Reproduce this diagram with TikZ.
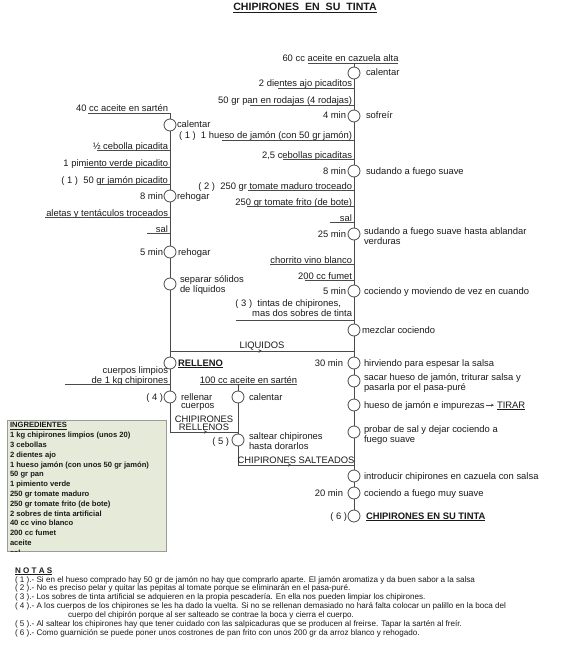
\documentclass[tikz,border=0pt]{standalone}
\usepackage{fontspec}
\setmainfont{Liberation Sans}
\usetikzlibrary{arrows.meta,decorations.markings}
\definecolor{ln}{HTML}{4A4A4A}
\definecolor{tx}{HTML}{1A1A1A}
\definecolor{boxfill}{HTML}{E6EBD9}
\definecolor{boxline}{HTML}{9A9A9A}
\newcommand{\ingr}[5]{%
  \node[lab, anchor=base east] (#1) at (#2-2, #3+3) {#5};
  \draw[ul] (#4, #3+4.5) -- (#2, #3+4.5);}
\begin{document}
\begin{tikzpicture}[x=1pt,y=-1pt,
  every node/.style={text=tx, inner sep=0pt, outer sep=0pt},
  lab/.style={font=\fontsize{9.4}{8}\selectfont, align=left},
  labr/.style={lab, align=right},
  stepc/.style={circle, draw=ln, fill=white, line width=0.8pt, minimum size=12pt, inner sep=0pt},
  flow/.style={draw=ln, line width=0.8pt},
  ul/.style={draw=ln, line width=0.7pt},
  midarrow/.style={postaction={decorate}, decoration={markings, mark=at position #1 with {\arrow{Stealth[length=3.5pt,width=3.5pt]}}}},
]
\useasboundingbox (0,0) rectangle (560,650);

% title
\node[anchor=base, font=\fontsize{10.6}{12}\selectfont\bfseries] (title) at (305,11) {\underline{CHIPIRONES\ \ EN\ \ SU\ \ TINTA}};

% ---------- right column circles ----------
\node[stepc] (r1) at (354,73) {};
\node[stepc] (r2) at (354,116) {};
\node[stepc] (r3) at (354,171) {};
\node[stepc] (r4) at (354,234) {};
\node[stepc] (r5) at (354,291) {};
\node[stepc] (r6) at (354,330) {};
\node[stepc] (r7) at (354,363) {};
\node[stepc] (r8) at (354,381) {};
\node[stepc] (r9) at (354,405) {};
\node[stepc] (r10) at (354,432) {};
\node[stepc] (r11) at (354,476) {};
\node[stepc] (r12) at (354,493) {};
\node[stepc] (r13) at (354,516) {};
\coordinate (topR) at (354,63.5);
\coordinate (jLr) at (354,351);
\coordinate (jSr) at (354,465);

% ---------- left column ----------
\node[stepc] (l1) at (170,125) {};
\node[stepc] (l2) at (170,196) {};
\node[stepc] (l3) at (170,252) {};
\node[stepc] (l4) at (170,284) {};
\node[stepc] (l5) at (170,363) {};
\node[stepc] (l6) at (170,397) {};
\coordinate (topL) at (170,113.5);
\coordinate (jLl) at (170,351);
\coordinate (cornL) at (170,432);

% ---------- middle column ----------
\node[stepc] (m1) at (238,397) {};
\node[stepc] (m2) at (238,440) {};
\coordinate (topM) at (238,384.5);
\coordinate (jRm) at (238,432);
\coordinate (cornM) at (238,465);

% ---------- flow lines ----------
\draw[flow] (topR) -- (r1) -- (r2) -- (r3) -- (r4) -- (r5) -- (r6) -- (r7) -- (r8) -- (r9) -- (r10) -- (r11) -- (r12) -- (r13);
\draw[flow] (topL) -- (l1) -- (l2) -- (l3) -- (l4) -- (l5) -- (l6) -- (cornL);
\draw[flow] (topM) -- (m1) -- (m2) -- (cornM);
\draw[flow, midarrow=0.5] (jLl) -- (jLr);
\draw[flow, midarrow=0.55] (cornL) -- (jRm);
\draw[flow, midarrow=0.46] (cornM) -- (jSr);

% ---------- right column ingredients ----------
\node[lab, anchor=base] (a0) at (340.5,62) {60 cc aceite en cazuela alta};
\draw[ul] (308,63.5) -- (398,63.5);
\ingr{i1}{354}{84}{278}{2 dientes ajo picaditos}
\ingr{i2}{354}{101}{250}{50 gr pan en rodajas (4 rodajas)}
\ingr{i3}{354}{136}{222}{( 1 )\ \ 1 hueso de jamón (con 50 gr jamón)}
\ingr{i4}{354}{155}{283}{2,5 cebollas picaditas}
\ingr{i5}{354}{186}{248}{( 2 )\ \ 250 gr tomate maduro troceado}
\ingr{i6}{354}{202}{247}{250 gr tomate frito (de bote)}
\ingr{i7}{354}{218}{330}{sal}
\ingr{i8}{354}{260}{270}{chorrito vino blanco}
\ingr{i9}{354}{276}{305}{200 cc fumet}
\node[labr, anchor=base east] (i10) at (352,316) {( 3 )\ \ tintas de chipirones,\hspace*{11pt}\\mas dos sobres de tinta};
\draw[ul] (236,320) -- (354,320);

% ---------- left column ingredients ----------
\node[lab, anchor=base east] (b0) at (168,112) {40 cc aceite en sartén};
\draw[ul] (88,113.5) -- (170,113.5);
\ingr{j1}{170}{146}{97}{½ cebolla picadita}
\ingr{j2}{170}{163}{84}{1 pimiento verde picadito}
\ingr{j3}{170}{180}{98}{( 1 )\ \ 50 gr jamón picadito}
\ingr{j4}{170}{213}{45}{aletas y tentáculos troceados}
\ingr{j5}{170}{229}{147}{sal}
\node[labr, anchor=base east] (j6) at (168,383) {cuerpos limpios\\de 1 kg chipirones};
\draw[ul] (65,384.5) -- (170,384.5);

% middle ingredient
\node[lab, anchor=base] (k0) at (248.5,383) {100 cc aceite en sartén};
\draw[ul] (200,384.5) -- (297,384.5);

% ---------- circle labels right ----------
\node[lab, anchor=base west] (r1l) at (366,76) {calentar};
\node[labr, anchor=base east] (r2t) at (346,119) {4 min};
\node[lab, anchor=base west] (r2l) at (366,119) {sofreír};
\node[labr, anchor=base east] (r3t) at (346,174) {8 min};
\node[lab, anchor=base west] (r3l) at (366,174) {sudando a fuego suave};
\node[labr, anchor=base east] (r4t) at (346,237) {25 min};
\node[lab, anchor=base west] (r4l) at (364,244) {sudando a fuego suave hasta ablandar\\verduras};
\node[labr, anchor=base east] (r5t) at (346,294) {5 min};
\node[lab, anchor=base west] (r5l) at (364,294) {cociendo y moviendo de vez en cuando};
\node[lab, anchor=base west] (r6l) at (362,333) {mezclar cociendo};
\node[labr, anchor=base east] (r7t) at (343,366) {30 min};
\node[lab, anchor=base west] (r7l) at (364,366) {hirviendo para espesar la salsa};
\node[lab, anchor=base west] (r8l) at (364,390) {sacar hueso de jamón, triturar salsa y\\pasarla por el pasa-puré};
\node[lab, anchor=base west] (r9l) at (364,408) {hueso de jamón e impurezas};
\node[lab, anchor=base west] (tirar) at (497,408) {\underline{TIRAR}};
\draw[draw=ln, line width=0.7pt, -{Stealth[length=3pt,width=3pt]}, shorten <=1pt, shorten >=3pt] ([yshift=2.8pt]r9l.base east) -- ([yshift=2.8pt]tirar.base west);
\node[lab, anchor=base west] (r10l) at (364,442) {probar de sal y dejar cociendo a\\fuego suave};
\node[lab, anchor=base west] (r11l) at (364,479) {introducir chipirones en cazuela con salsa};
\node[labr, anchor=base east] (r12t) at (343,496) {20 min};
\node[lab, anchor=base west] (r12l) at (364,496) {cociendo a fuego muy suave};
\node[labr, anchor=base east] (r13t) at (347,519) {( 6 )};
\node[lab, anchor=base west, font=\fontsize{9.4}{8}\selectfont\bfseries] (r13l) at (366,519) {\underline{CHIPIRONES EN SU TINTA}};

% ---------- circle labels left ----------
\node[lab, anchor=base west] (l1l) at (177,128) {calentar};
\node[labr, anchor=base east] (l2t) at (163,199) {8 min};
\node[lab, anchor=base west] (l2l) at (177,199) {rehogar};
\node[labr, anchor=base east] (l3t) at (163,255) {5 min};
\node[lab, anchor=base west] (l3l) at (178,255) {rehogar};
\node[lab, anchor=base west] (l4l) at (180,292) {separar sólidos\\de líquidos};
\node[lab, anchor=base west, font=\fontsize{9.4}{8}\selectfont\bfseries] (l5l) at (178,366) {\underline{RELLENO}};
\node[labr, anchor=base east] (l6t) at (163,400) {( 4 )};
\node[lab, anchor=base west] (l6l) at (181,408) {rellenar\\cuerpos};

% ---------- middle labels ----------
\node[lab, anchor=base west] (m1l) at (249,400) {calentar};
\node[labr, anchor=base east] (m2t) at (229,444) {( 5 )};
\node[lab, anchor=base west] (m2l) at (249,449) {saltear chipirones\\hasta dorarlos};

% ---------- edge labels ----------
\node[lab, anchor=base] (eLiq) at (262,348) {LIQUIDOS};
\node[lab, anchor=base, align=center] (eRel) at (204,430.5) {CHIPIRONES\\RELLENOS};
\node[lab, anchor=base] (eSal) at (296,463) {CHIPIRONES SALTEADOS};

% ---------- ingredients box ----------
\draw[draw=boxline, fill=boxfill, line width=0.6pt] (7,420) rectangle (166,551);
\begin{scope}
\clip (7,420) rectangle (166,551);
\node[anchor=north west, align=left, font=\fontsize{7.6}{9.8}\selectfont\bfseries] (ingr) at (10,422.5) {\underline{INGREDIENTES}\\
1 kg chipirones limpios (unos 20)\\
3 cebollas\\
2 dientes ajo\\
1 hueso jamón (con unos 50 gr jamón)\\
50 gr pan\\
1 pimiento verde\\
250 gr tomate maduro\\
250 gr tomate frito (de bote)\\
2 sobres de tinta artificial\\
40 cc vino blanco\\
200 cc fumet\\
aceite\\
sal};
\end{scope}

% ---------- notes ----------
\node[anchor=north west, align=left, font=\fontsize{8.1}{8.9}\selectfont] (notas) at (15,567.5) {{\bfseries\underline{N O T A S}}\\
( 1 ).- Si en el hueso comprado hay 50 gr de jamón no hay que comprarlo aparte. El jamón aromatiza y da buen sabor a la salsa\\
( 2 ).- No es preciso pelar y quitar las pepitas al tomate porque se eliminarán en el pasa-puré.\\
( 3 ).- Los sobres de tinta artificial se adquieren en la propia pescadería. En ella nos pueden limpiar los chipirones.\\
( 4 ).- A los cuerpos de los chipirones se les ha dado la vuelta. Si no se rellenan demasiado no hará falta colocar un palillo en la boca del\\
\hspace*{53pt}cuerpo del chipirón porque al ser salteado se contrae la boca y cierra el cuerpo.\\
( 5 ).- Al saltear los chipirones hay que tener cuidado con las salpicaduras que se producen al freirse. Tapar la sartén al freír.\\
( 6 ).- Como guarnición se puede poner unos costrones de pan frito con unos 200 gr da arroz blanco y rehogado.};
\end{tikzpicture}
\end{document}
